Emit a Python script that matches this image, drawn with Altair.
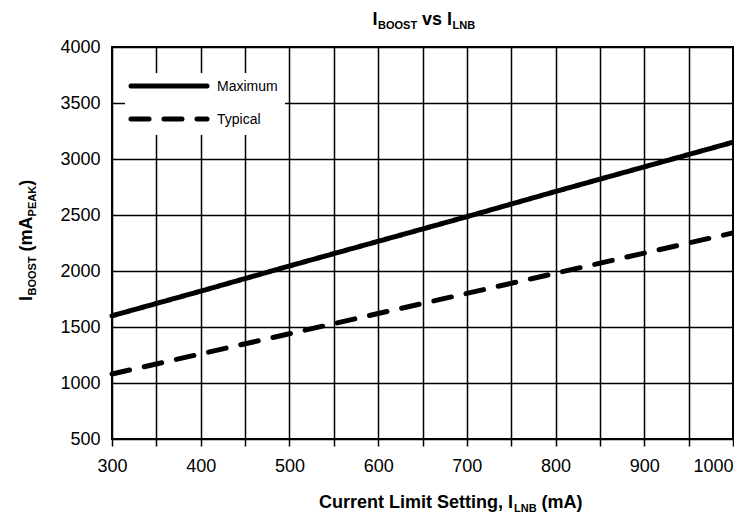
import altair as alt
import pandas as pd

# ---- data ----
x_vals = [300, 400, 500, 600, 700, 800, 900, 1000]
maximum = [1600, 1820, 2045, 2265, 2485, 2710, 2930, 3150]
typical = [1080, 1260, 1440, 1620, 1800, 1980, 2160, 2340]
series_names = ["Maximum", "Typical"]
x_ticks = list(range(300, 1001, 50))
y_ticks = list(range(500, 4001, 500))

FONT = "Liberation Sans, Arial, sans-serif"
W, H = 621, 392

df = pd.DataFrame({
    "x": x_vals * 2,
    "y": maximum + typical,
    "series": [series_names[0]] * len(x_vals) + [series_names[1]] * len(x_vals),
})

dash_range = [[1, 0], [18, 15]]

lines = alt.Chart(df).mark_line(strokeWidth=5, color="black", strokeCap="round").encode(
    x=alt.X("x:Q",
            scale=alt.Scale(domain=[300, 1000], nice=False, zero=False),
            axis=alt.Axis(values=x_ticks, format="d",
                          labelExpr="datum.value % 100 == 0 ? datum.label : ''",
                          labelFlush=False,
                          labelAlign={"condition": {"test": "datum.value >= 1000", "value": "right"},
                                      "value": "center"},
                          title=None, grid=True, tickSize=7, labelPadding=11)),
    y=alt.Y("y:Q",
            scale=alt.Scale(domain=[500, 4000], nice=False, zero=False),
            axis=alt.Axis(values=y_ticks, format="d", ticks=False, title=None,
                          labelFlush=False, labelPadding=12, grid=True)),
    strokeDash=alt.StrokeDash("series:N",
                              scale=alt.Scale(domain=series_names, range=dash_range),
                              legend=None),
)

one = pd.DataFrame({"k": [0]})

legend_box = alt.Chart(one).mark_rect(fill="white").encode(
    x=alt.value(13), x2=alt.value(173), y=alt.value(26), y2=alt.value(88))

leg_max = alt.Chart(one).mark_rule(strokeWidth=5, color="black", strokeCap="round").encode(
    x=alt.value(19), x2=alt.value(95), y=alt.value(39))
leg_typ = alt.Chart(one).mark_rule(strokeWidth=5, color="black", strokeCap="round",
                                   strokeDash=dash_range[1]).encode(
    x=alt.value(19), x2=alt.value(95), y=alt.value(72))


def txt(s, x, y, size=18, bold=True, align="left", baseline="alphabetic", angle=0):
    kw = dict(text=s, font=FONT, fontSize=size, fontWeight="bold" if bold else "normal",
              align=align, baseline=baseline, color="black")
    if angle:
        kw["angle"] = angle
    return alt.Chart(one).mark_text(**kw).encode(x=alt.value(x), y=alt.value(y))


texts = [
    # legend labels
    txt("Maximum", 105, 40, size=14, bold=False, baseline="middle"),
    txt("Typical", 105, 73, size=14, bold=False, baseline="middle"),
    # chart title: I_BOOST vs I_LNB
    txt("I", 260.6, -22),
    txt("BOOST", 266, -18, size=11),
    txt("vs", 310.1, -22),
    txt("I", 335.1, -22),
    txt("LNB", 340.5, -18, size=11),
    # x axis title
    txt("Current Limit Setting, I", 207, 461),
    txt("LNB", 402, 465, size=11),
    txt("(mA)", 429.6, 461),
    # y axis title (rotated)
    txt("I", -80, 253.9, angle=270),
    txt("BOOST", -76, 248.5, size=11, angle=270),
    txt("(mA", -80, 204.4, angle=270),
    txt("PEAK", -76, 169.4, size=11, angle=270),
    txt(")", -80, 138.8, angle=270),
]

chart = alt.layer(lines, legend_box, leg_max, leg_typ, *texts).properties(
    width=W, height=H,
    autosize=alt.AutoSizeParams(type="none"),
    padding={"left": 104, "top": 39, "right": 1, "bottom": 74},
).configure_view(
    stroke="black", strokeWidth=2,
).configure_axis(
    grid=True, gridColor="black", gridWidth=1.5, gridOpacity=1,
    labelFont=FONT, labelFontSize=18, labelColor="black",
    tickColor="black", tickWidth=1.5, domain=False,
)

chart.save("out.html", embed_options={"renderer": "svg", "actions": False})
